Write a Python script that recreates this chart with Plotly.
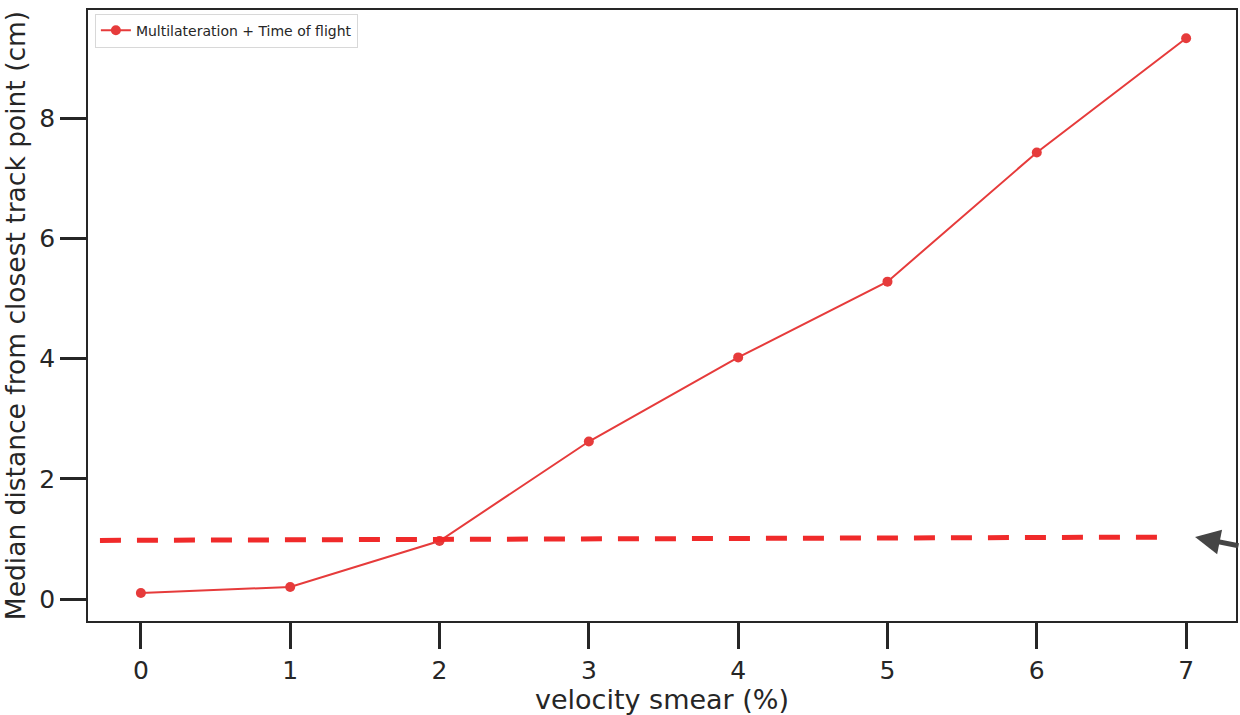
import plotly.graph_objects as go

# Median track-point distance vs. velocity smear
smear_pct = [0, 1, 2, 3, 4, 5, 6, 7]
median_dist_cm = [0.10, 0.20, 0.965, 2.62, 4.02, 5.28, 7.43, 9.33]
series_name = "Multilateration + Time of flight"

# Hand-drawn 1 cm reference line (slightly tilted) and its pointer
ref_x = [-0.274, 6.906]
ref_y = [0.975, 1.03]
pointer_x = 7.06
pointer_y = 1.03

x_ticks = [0, 1, 2, 3, 4, 5, 6, 7]
y_ticks = [0, 2, 4, 6, 8]

RED = "#e63b3b"
INK = "#262626"

fig = go.Figure()
fig.add_trace(go.Scatter(
    x=smear_pct, y=median_dist_cm, mode="lines+markers", name=series_name,
    line=dict(color=RED, width=2),
    marker=dict(color=RED, size=10),
))

fig.add_shape(type="line", xref="x", yref="y",
              x0=ref_x[0], y0=ref_y[0], x1=ref_x[1], y1=ref_y[1],
              line=dict(color="#f02a2a", width=5, dash="21px,16px"))

fig.add_annotation(x=pointer_x, y=pointer_y, xref="x", yref="y",
                   text="", showarrow=True, ax=50, ay=9,
                   arrowhead=2, arrowsize=1.0, arrowwidth=5,
                   arrowcolor="#454545", standoff=0)

axis_common = dict(
    showline=True, mirror=True, linecolor=INK, linewidth=1.5,
    ticks="outside", ticklen=26, tickwidth=3, tickcolor=INK,
    showgrid=False, zeroline=False,
    tickfont=dict(family="DejaVu Sans", size=25, color=INK),
)

fig.update_xaxes(
    range=[-0.354, 7.334], tickvals=x_ticks,
    title=dict(text="velocity smear (%)", standoff=9,
               font=dict(family="DejaVu Sans", size=27, color=INK)),
    **axis_common,
)
fig.update_yaxes(
    range=[-0.366, 9.80], tickvals=y_ticks,
    title=dict(text="Median distance from closest track point (cm)", standoff=8,
               font=dict(family="DejaVu Sans", size=26.5, color=INK)),
    **axis_common,
)

fig.update_layout(
    width=1240, height=715,
    margin=dict(l=88, r=2, t=10, b=94),
    paper_bgcolor="white", plot_bgcolor="white",
    showlegend=True,
    legend=dict(x=0.006, y=0.994, xanchor="left", yanchor="top",
                bgcolor="white", bordercolor="#d8d8d8", borderwidth=1,
                font=dict(family="DejaVu Sans", size=14, color=INK),
                itemwidth=30, tracegroupgap=0),
)

fig.write_html("out.html")
